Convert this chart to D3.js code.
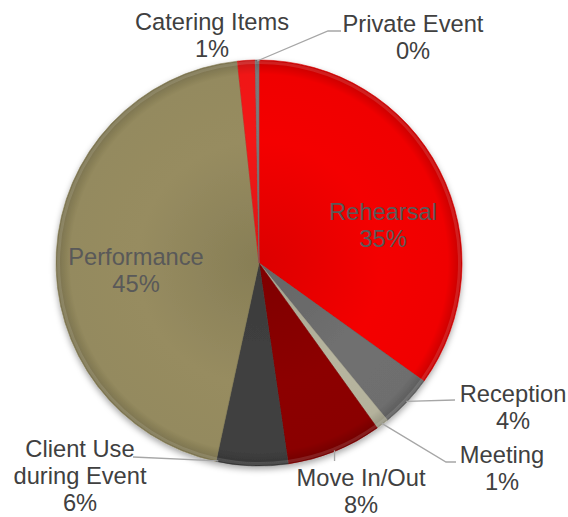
<!DOCTYPE html>
<html><head><meta charset="utf-8">
<script src="https://cdn.jsdelivr.net/npm/d3@7"></script>
<style>body{margin:0;background:#fff}svg{display:block}text{font-family:"Liberation Sans",Arial,sans-serif}</style>
</head><body>
<svg id="c" width="568" height="517"></svg>
<script>
const categories = ["Rehearsal","Reception","Meeting","Move In/Out","Client Use during Event","Performance","Catering Items","Private Event"];
const values = [34.9, 4.2, 1.0, 7.6, 5.7, 44.9, 1.4, 0.3];
const colors = ["#f00000","#6e6e6e","#b4b29c","#8a0000","#404040","#948a5e","#f01818","#7a7a7a"];

// label layout (positions only)
const labelLayout = [
  {lines:["Rehearsal"], x:383, y:220, inside:true},
  {lines:["Reception"], x:513, y:402, lead:[[455,400]]},
  {lines:["Meeting"], x:502, y:463, lead:[[446,462],[456,462]]},
  {lines:["Move In/Out"], x:361, y:486, lead:[[0,461]], vertical:true},
  {lines:["Client Use","during Event"], x:80, y:457, lead:[[133,457]], frac:0.97},
  {lines:["Performance"], x:136, y:265, inside:true},
  {lines:["Catering Items"], x:212, y:30},
  {lines:["Private Event"], x:413, y:32, lead:[[328,31],[341,31]]}
];

const cx=259, cy=263, R=203, FS=23.7, LH=27;
const svg=d3.select("#c");
const defs=svg.append("defs");
const f=defs.append("filter").attr("id","sh").attr("x","-20%").attr("y","-20%").attr("width","140%").attr("height","140%");
f.append("feDropShadow").attr("dx",0).attr("dy",3).attr("stdDeviation",3).attr("flood-color","#000").attr("flood-opacity",0.35);

colors.forEach((c,i)=>{
  const g=defs.append("radialGradient").attr("id","g"+i).attr("gradientUnits","userSpaceOnUse")
    .attr("cx",0).attr("cy",0).attr("r",R);
  const col=d3.color(c);
  g.append("stop").attr("offset","0%").attr("stop-color",col.darker(0.25));
  g.append("stop").attr("offset","60%").attr("stop-color",col.brighter(0.05));
  g.append("stop").attr("offset","93%").attr("stop-color",col);
  g.append("stop").attr("offset","100%").attr("stop-color",col.darker(0.6));
});

const pie=d3.pie().sort(null).value(d=>d)(values);
const arc=d3.arc().innerRadius(0).outerRadius(R);
const gp=svg.append("g").attr("transform",`translate(${cx},${cy})`);
gp.append("g").attr("filter","url(#sh)").selectAll("path").data(pie).join("path")
  .attr("d",arc).attr("fill",(d,i)=>`url(#g${i})`)
  .attr("stroke",(d,i)=>d3.color(colors[i]).darker(0.3)).attr("stroke-width",0.6);

gp.selectAll("path.bev").data(pie).join("path").attr("class","bev")
  .attr("d",d3.arc().innerRadius(R-4).outerRadius(R-1))
  .attr("fill","#fff").attr("opacity",0.12);

// leader lines
pie.forEach((p,i)=>{
  const L=labelLayout[i];
  if(!L.lead) return;
  const fr=L.frac==null?0.5:L.frac;
  const a=p.startAngle+(p.endAngle-p.startAngle)*fr;
  const s=[cx+Math.sin(a)*(R-1), cy-Math.cos(a)*(R-1)];
  let pts=[s].concat(L.lead.map(q=>q.slice()));
  if(L.vertical) pts=[s,[s[0],L.lead[0][1]]];
  svg.append("path").attr("d",d3.line()(pts)).attr("fill","none").attr("stroke","#a6a6a6").attr("stroke-width",1.3);
});

// labels
pie.forEach((p,i)=>{
  const L=labelLayout[i];
  const t=svg.append("text").attr("text-anchor","middle").attr("font-size",FS)
    .attr("fill",L.inside?"#595959":"#404040");
  const lines=L.lines.concat([Math.round(values[i])+"%"]);
  lines.forEach((s,k)=>t.append("tspan").attr("x",L.x).attr("y",L.y+k*LH).text(s));
});
</script>
</body></html>
